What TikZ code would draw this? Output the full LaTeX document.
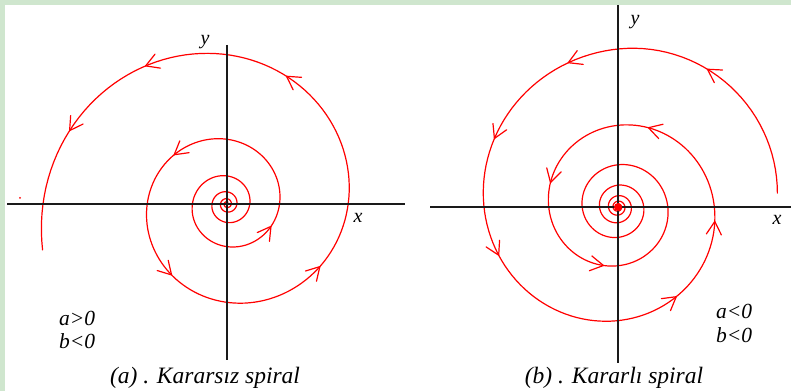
\documentclass[tikz,border=0pt]{standalone}
\usepackage{fontspec}
\setmainfont{Liberation Serif}
\definecolor{bordergreen}{HTML}{CFE6CE}
\definecolor{axisgray}{HTML}{1A1A1A}
\newcommand\spiralchev[4]{%
  \pgfmathsetmacro\chpx{#1+#3(#4)*cos(#4)}%
  \pgfmathsetmacro\chpy{#2+#3(#4)*sin(#4)}%
  \pgfmathsetmacro\chqx{#1+#3(#4-3)*cos(#4-3)}%
  \pgfmathsetmacro\chqy{#2+#3(#4-3)*sin(#4-3)}%
  \pgfmathsetmacro\chdir{atan2(\chpy-\chqy,\chpx-\chqx)}%
  \draw[spir] ([shift={(\chdir+150:15)}]\chpx,\chpy) -- (\chpx,\chpy) -- ([shift={(\chdir-150:15)}]\chpx,\chpy);%
}
\begin{document}
\begin{tikzpicture}[x=1pt,y=1pt,
  declare function={
    rA(\t)=184*exp(0.133*(\t-1620)*pi/180);
    dB(\t)=(\t-90)*pi/180;
    rB(\t)=158*exp(-0.105*(dB(\t)+0.62*min(dB(\t),0)*min(dB(\t),0)));
  },
  axis/.style={draw=axisgray,line width=1.5pt},
  spir/.style={draw=red,line width=1.2pt,line join=round,line cap=round},
  axlbl/.style={font=\fontsize{20}{24}\selectfont\itshape,inner sep=0pt},
  cond/.style={font=\fontsize{21.5}{25}\selectfont\itshape,inner sep=0pt,anchor=base west},
  capt/.style={font=\fontsize{23.5}{28}\selectfont\itshape,inner sep=0pt,anchor=base}]
% background
\fill[white] (0,0) rectangle (791,391);
\fill[bordergreen] (0,386) rectangle (791,391);
\fill[bordergreen] (0,0) rectangle (5,391);
\useasboundingbox (0,0) rectangle (791,391);

% ---------- panel (a): unstable spiral ----------
\draw[spir] plot[domain=-300:1634,samples=700] ({227+rA(\x)*cos(\x)},{187+rA(\x)*sin(\x)});
\foreach \p in {1560.5,1595,1505,1217,1312,1053,1406}{\spiralchev{227}{187}{rA}{\p}}
\fill[red] (20,193) circle (1);
\draw[axis] (7,187) -- (405,187);
\draw[axis] (227,346) -- (227,31);
\node[axlbl] (ya) at (205,349) {y};
\node[axlbl] (xa) at (358,173) {x};
\node[cond] (ca1) at (59,66) {a>0};
\node[cond] (ca2) at (59,43) {b<0};
\node[capt] (capa) at (205,8) {(a) . Kararsız spiral};

% ---------- panel (b): stable spiral ----------
\draw[spir] plot[domain=5:2250,samples=800] ({618+rB(\x)*cos(\x)},{184+rB(\x)*sin(\x)});
\foreach \p in {109,57,151,202,303,351.5,429,520,616}{\spiralchev{618}{184}{rB}{\p}}
\draw[axis] (430,184) -- (791,184);
\draw[axis] (618,386) -- (618,28);
\fill[red] (618,184) circle (4);
\node[axlbl] (yb) at (635,369) {y};
\node[axlbl] (xb) at (777,171) {x};
\node[cond] (cb1) at (716,73) {a<0};
\node[cond] (cb2) at (716,49) {b<0};
\node[capt] (capb) at (614,8) {(b) . Kararlı spiral};
\end{tikzpicture}
\end{document}
